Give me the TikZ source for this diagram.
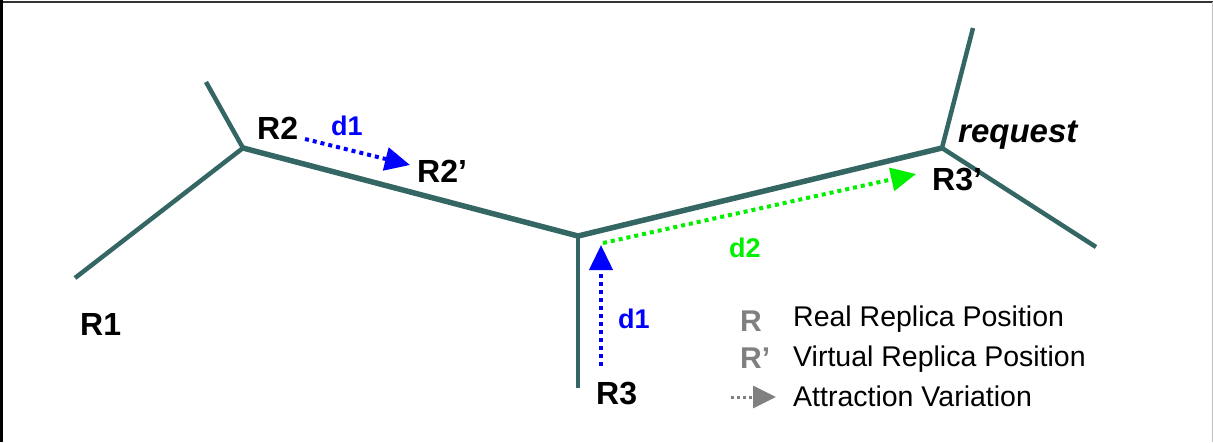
\documentclass[tikz,border=0pt]{standalone}
\usepackage{fontspec}
\setmainfont{Liberation Sans}
\usetikzlibrary{arrows.meta}
\definecolor{edgeteal}{RGB}{52,102,100}
\definecolor{attrblue}{RGB}{0,0,255}
\definecolor{attrgreen}{RGB}{0,240,0}
\definecolor{legendgray}{RGB}{128,128,128}
\tikzset{
  branch/.style={draw=edgeteal, line width=4.5pt, line cap=butt, line join=miter},
  trunk/.style={draw=edgeteal, line width=5.5pt, line join=miter},
  lbl/.style={inner sep=0pt, anchor=base west, font=\fontsize{32}{32}\selectfont\bfseries},
  dlbl/.style={inner sep=0pt, anchor=base west, font=\fontsize{27}{27}\selectfont\bfseries},
  legtxt/.style={inner sep=0pt, anchor=base west, font=\fontsize{28.5}{28.5}\selectfont},
  legsym/.style={inner sep=0pt, anchor=base west, text=legendgray, font=\fontsize{30}{30}\selectfont\bfseries},
  attract/.style={line width=4pt, dash pattern=on 4pt off 4pt,
    -{Triangle[length=25pt,width=23pt]}},
}
\begin{document}
\begin{tikzpicture}[x=1pt,y=-1pt]
\useasboundingbox (0,0) rectangle (1213,442);
% frame
\draw[line width=2pt, black!80] (0,2) -- (1213,2);
\draw[line width=2.5pt, black] (1.5,0) -- (1.5,442);
\draw[line width=1pt, black!25] (1212,2) -- (1212,442);

% tree junctions and leaf ends
\coordinate (jA) at (243,148);
\coordinate (jB) at (578,236);
\coordinate (jC) at (942,148);
\coordinate (eA1) at (206,82);
\coordinate (eA2) at (75,278);
\coordinate (eB) at (578,388);
\coordinate (eC1) at (973,28);
\coordinate (eC2) at (1096,247);

\draw[branch] (eA1) -- (jA);
\draw[branch] (eA2) -- (jA);
\draw[branch] (eB) -- (jB);
\draw[branch] (eC1) -- (jC);
\draw[branch] (eC2) -- (jC);
\draw[trunk] (jA) -- (jB) -- (jC);

% replica labels
\node[lbl] (R1) at (80,335) {R1};
\node[lbl] (R2) at (257,139) {R2};
\node[lbl] (R2p) at (417,182) {R2’};
\node[lbl] (R3) at (596,404) {R3};
\node[lbl] (R3p) at (932,190) {R3’};
\node[lbl, font=\fontsize{33}{33}\selectfont\bfseries\itshape] (req) at (958,142) {request};

% attraction arrows
\coordinate (a2s) at (305,139);
\coordinate (a2e) at (410,165);
\draw[attract, attrblue] (a2s) -- (a2e);
\node[dlbl, text=attrblue] (d1a) at (331,135) {d1};

\coordinate (a3s) at (601,366);
\coordinate (a3e) at (601,245);
\draw[attract, attrblue] (a3s) -- (a3e);
\node[dlbl, text=attrblue] (d1b) at (618,328) {d1};

\coordinate (g3s) at (603,243);
\coordinate (g3e) at (916,174);
\draw[attract, attrgreen] (g3s) -- (g3e);
\node[dlbl, text=attrgreen] (d2) at (729,257) {d2};

% legend
\node[legsym] (legR) at (740,331) {R};
\node[legsym] (legRp) at (740,368) {R’};
\coordinate (lgs) at (731,397);
\coordinate (lge) at (776,397);
\draw[attract, legendgray, line width=3pt, dash pattern=on 3pt off 3pt,
  -{Triangle[length=23pt,width=22pt]}] (lgs) -- (lge);
\node[legtxt] (t1) at (793,326) {Real Replica Position};
\node[legtxt] (t2) at (793,366) {Virtual Replica Position};
\node[legtxt] (t3) at (793,406) {Attraction Variation};
\end{tikzpicture}
\end{document}
